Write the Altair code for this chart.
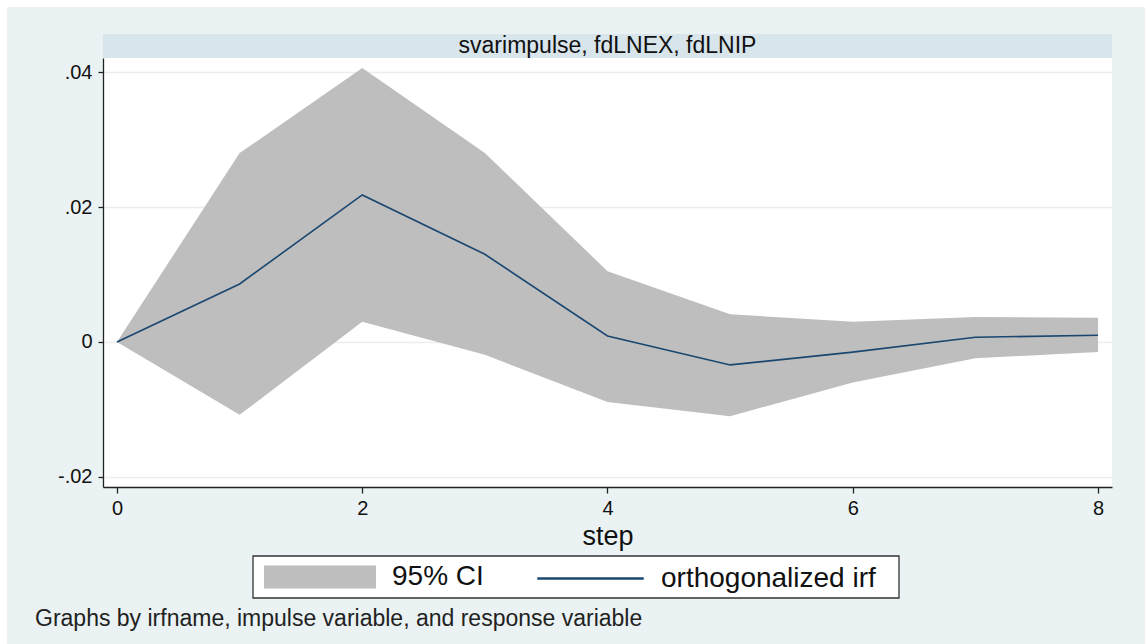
import altair as alt
import pandas as pd

# ---- data ----
steps = [0, 1, 2, 3, 4, 5, 6, 7, 8]
irf = [0.0, 0.0086, 0.0218, 0.0130, 0.0009, -0.0034, -0.0015, 0.0007, 0.0010]
upper = [0.0, 0.0280, 0.0406, 0.0280, 0.0105, 0.0041, 0.0030, 0.0037, 0.0036]
lower = [0.0, -0.0108, 0.0030, -0.0019, -0.0089, -0.0110, -0.0060, -0.0024, -0.0015]

x_ticks = [0, 2, 4, 6, 8]
y_ticks = [-0.02, 0.0, 0.02, 0.04]
y_tick_labels = ["-.02", "0", ".02", ".04"]

ci_name = "95% CI"
irf_name = "orthogonalized irf"
panel_title = "svarimpulse, fdLNEX, fdLNIP"
note_text = "Graphs by irfname, impulse variable, and response variable"

df = pd.DataFrame({"step": steps, "irf": irf, "upper": upper, "lower": lower})

W, H = 1009, 429
FONT = "Liberation Sans"
NAVY = "#1a476f"
CI_GRAY = "#bebebe"

label_expr = " : ".join(
    [f"abs(datum.value - ({v})) < 1e-9 ? '{l}'" for v, l in zip(y_ticks, y_tick_labels)]
) + " : ''"

x_scale = alt.Scale(domain=[-0.114, 8.114], nice=False, zero=False)
y_scale = alt.Scale(domain=[-0.0215, 0.0421], nice=False, zero=False)

common_legend = dict(
    title=None,
    orient="none",
    direction="horizontal",
    padding=0,
    symbolSize=12544,
    labelFont=FONT,
    labelFontSize=28,
    labelColor="#111111",
    labelLimit=0,
    symbolOpacity=1,
)

ci_legend = alt.Legend(
    legendX=161, legendY=463,
    labelOffset=16,
    symbolType="M-1,-0.205H1V0.205H-1Z",
    symbolStrokeWidth=0,
    **common_legend,
)
irf_legend = alt.Legend(
    legendX=430, legendY=463,
    labelOffset=13,
    symbolType="M-0.95,0H0.95",
    symbolStrokeWidth=2.5,
    **common_legend,
)

x_enc = alt.X(
    "step:Q",
    scale=x_scale,
    axis=alt.Axis(
        values=x_ticks,
        format="d",
        title="step",
        grid=False,
        tickSize=6,
        labelPadding=5,
        titlePadding=5,
        titleFontSize=27,
        titleFontWeight="normal",
    ),
)

ci = (
    alt.Chart(df)
    .transform_calculate(series=f"'{ci_name}'")
    .mark_area(opacity=1, interpolate="linear")
    .encode(
        x=x_enc,
        y=alt.Y(
            "lower:Q",
            scale=y_scale,
            axis=alt.Axis(
                values=y_ticks,
                labelExpr=label_expr,
                title=None,
                grid=True,
                gridColor="#ebeef0",
                gridWidth=1.5,
                tickSize=5,
                labelPadding=6,
            ),
        ),
        y2="upper:Q",
        fill=alt.Fill("series:N", scale=alt.Scale(domain=[ci_name], range=[CI_GRAY]), legend=ci_legend),
    )
)

line = (
    alt.Chart(df)
    .transform_calculate(series2=f"'{irf_name}'")
    .mark_line(strokeWidth=1.6)
    .encode(
        x="step:Q",
        y="irf:Q",
        stroke=alt.Stroke("series2:N", scale=alt.Scale(domain=[irf_name], range=[NAVY]), legend=irf_legend),
    )
)

one = alt.Data(values=[{"k": 1}])

white_top = alt.Chart(one).mark_rect(color="white").encode(
    x=alt.value(-103), x2=alt.value(1042), y=alt.value(-58), y2=alt.value(-51)
)
white_left = alt.Chart(one).mark_rect(color="white").encode(
    x=alt.value(-103), x2=alt.value(-96), y=alt.value(-58), y2=alt.value(586)
)
strip = alt.Chart(one).mark_rect(color="#d8e5eb").encode(
    x=alt.value(0), x2=alt.value(W), y=alt.value(-24), y2=alt.value(0)
)
legend_box = alt.Chart(one).mark_rect(fill="white", stroke="#333333", strokeWidth=1.3).encode(
    x=alt.value(150), x2=alt.value(796), y=alt.value(498), y2=alt.value(540)
)
title_txt = alt.Chart(one).mark_text(
    text=panel_title, font=FONT, fontSize=23, color="#111111", align="center", baseline="alphabetic"
).encode(x=alt.value(W / 2), y=alt.value(-5))
note_txt = alt.Chart(one).mark_text(
    text=note_text, font=FONT, fontSize=23, color="#222222", align="left", baseline="alphabetic"
).encode(x=alt.value(-68), y=alt.value(568))

chart = (
    alt.layer(white_top, white_left, strip, legend_box, ci, line, title_txt, note_txt)
    .resolve_scale(fill="independent", stroke="independent")
    .properties(
        width=W,
        height=H,
        background="#eaf2f3",
        padding={"left": 103, "top": 58, "right": 33, "bottom": 157},
        autosize=alt.AutoSizeParams(type="none"),
    )
    .configure_view(fill="white", strokeWidth=0)
    .configure_axis(
        labelFont=FONT,
        titleFont=FONT,
        labelFontSize=20,
        labelColor="#111111",
        titleColor="#111111",
        domainColor="#222222",
        domainWidth=1.3,
        tickColor="#222222",
        tickWidth=1.3,
    )
)

chart.save("out.html", embed_options={"renderer": "svg", "actions": False})
